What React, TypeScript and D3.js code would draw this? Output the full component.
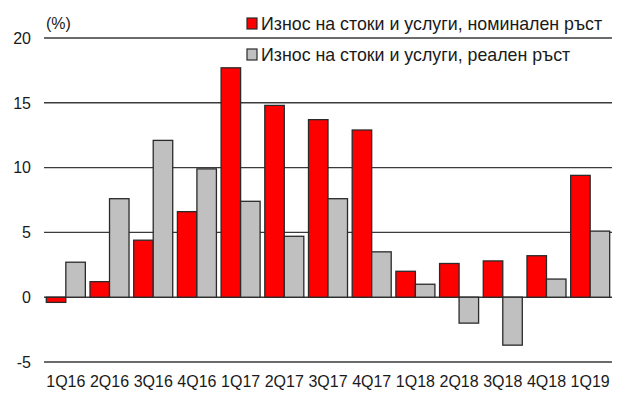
import React from "react";
import * as d3 from "d3";

const quarters = [
  "1Q16", "2Q16", "3Q16", "4Q16", "1Q17", "2Q17", "3Q17",
  "4Q17", "1Q18", "2Q18", "3Q18", "4Q18", "1Q19",
];
const nominal = [-0.4, 1.2, 4.4, 6.6, 17.7, 14.8, 13.7, 12.9, 2.0, 2.6, 2.8, 3.2, 9.4];
const real = [2.7, 7.6, 12.1, 9.9, 7.4, 4.7, 7.6, 3.5, 1.0, -2.0, -3.7, 1.4, 5.1];
const yTicks = [-5, 0, 5, 10, 15, 20];
const seriesNames = [
  "Износ на стоки и услуги, номинален ръст",
  "Износ на стоки и услуги, реален ръст",
];
const seriesColors = ["#ff0000", "#c0c0c0"];

const width = 630;
const height = 393;
const margin = { top: 38, right: 18, bottom: 31, left: 44 };
const font = "'Liberation Sans', Arial, sans-serif";

export default function App() {
  const x = d3
    .scaleBand<string>()
    .domain(quarters)
    .range([margin.left, width - margin.right])
    .paddingInner(0.107)
    .paddingOuter(0.053);

  const inner = d3
    .scaleBand<number>()
    .domain([0, 1])
    .range([0, x.bandwidth()]);

  const y = d3
    .scaleLinear()
    .domain([-5, 20])
    .range([height - margin.bottom, margin.top]);

  const series = [nominal, real];

  return (
    <svg
      width={width}
      height={height}
      style={{ position: "absolute", left: 0, top: 0, background: "#fff" }}
      fontFamily={font}
    >
      {/* grid lines */}
      {yTicks.map((t) => (
        <g key={t}>
          <line
            x1={margin.left}
            x2={width - margin.right}
            y1={y(t)}
            y2={y(t)}
            stroke="#3a3a3a"
            strokeWidth={1.4}
          />
          <text
            x={31}
            y={y(t)}
            dy="0.36em"
            textAnchor="end"
            fontSize={16}
            fill="#1a1a1a"
          >
            {t}
          </text>
        </g>
      ))}

      <text x={46} y={29} fontSize={16} fill="#1a1a1a">
        (%)
      </text>

      {/* bars */}
      {series.map((vals, si) =>
        vals.map((v, i) => (
          <rect
            key={`${si}-${i}`}
            x={(x(quarters[i]) ?? 0) + (inner(si) ?? 0)}
            y={y(Math.max(0, v))}
            width={inner.bandwidth()}
            height={Math.abs(y(v) - y(0))}
            fill={seriesColors[si]}
            stroke="#2a2a2a"
            strokeWidth={1.3}
          />
        ))
      )}

      {/* x labels */}
      {quarters.map((q) => (
        <text
          key={q}
          x={(x(q) ?? 0) + x.bandwidth() / 2}
          y={387}
          textAnchor="middle"
          fontSize={16}
          fill="#1a1a1a"
        >
          {q}
        </text>
      ))}

      {/* legend */}
      {seriesNames.map((name, i) => (
        <g key={name} transform={`translate(247, ${18 + i * 31})`}>
          <rect
            width={10}
            height={11}
            fill={seriesColors[i]}
            stroke="#2a2a2a"
            strokeWidth={1.2}
          />
          <text x={14} y={11.5} fontSize={17.8} fill="#1a1a1a">
            {name}
          </text>
        </g>
      ))}
    </svg>
  );
}
